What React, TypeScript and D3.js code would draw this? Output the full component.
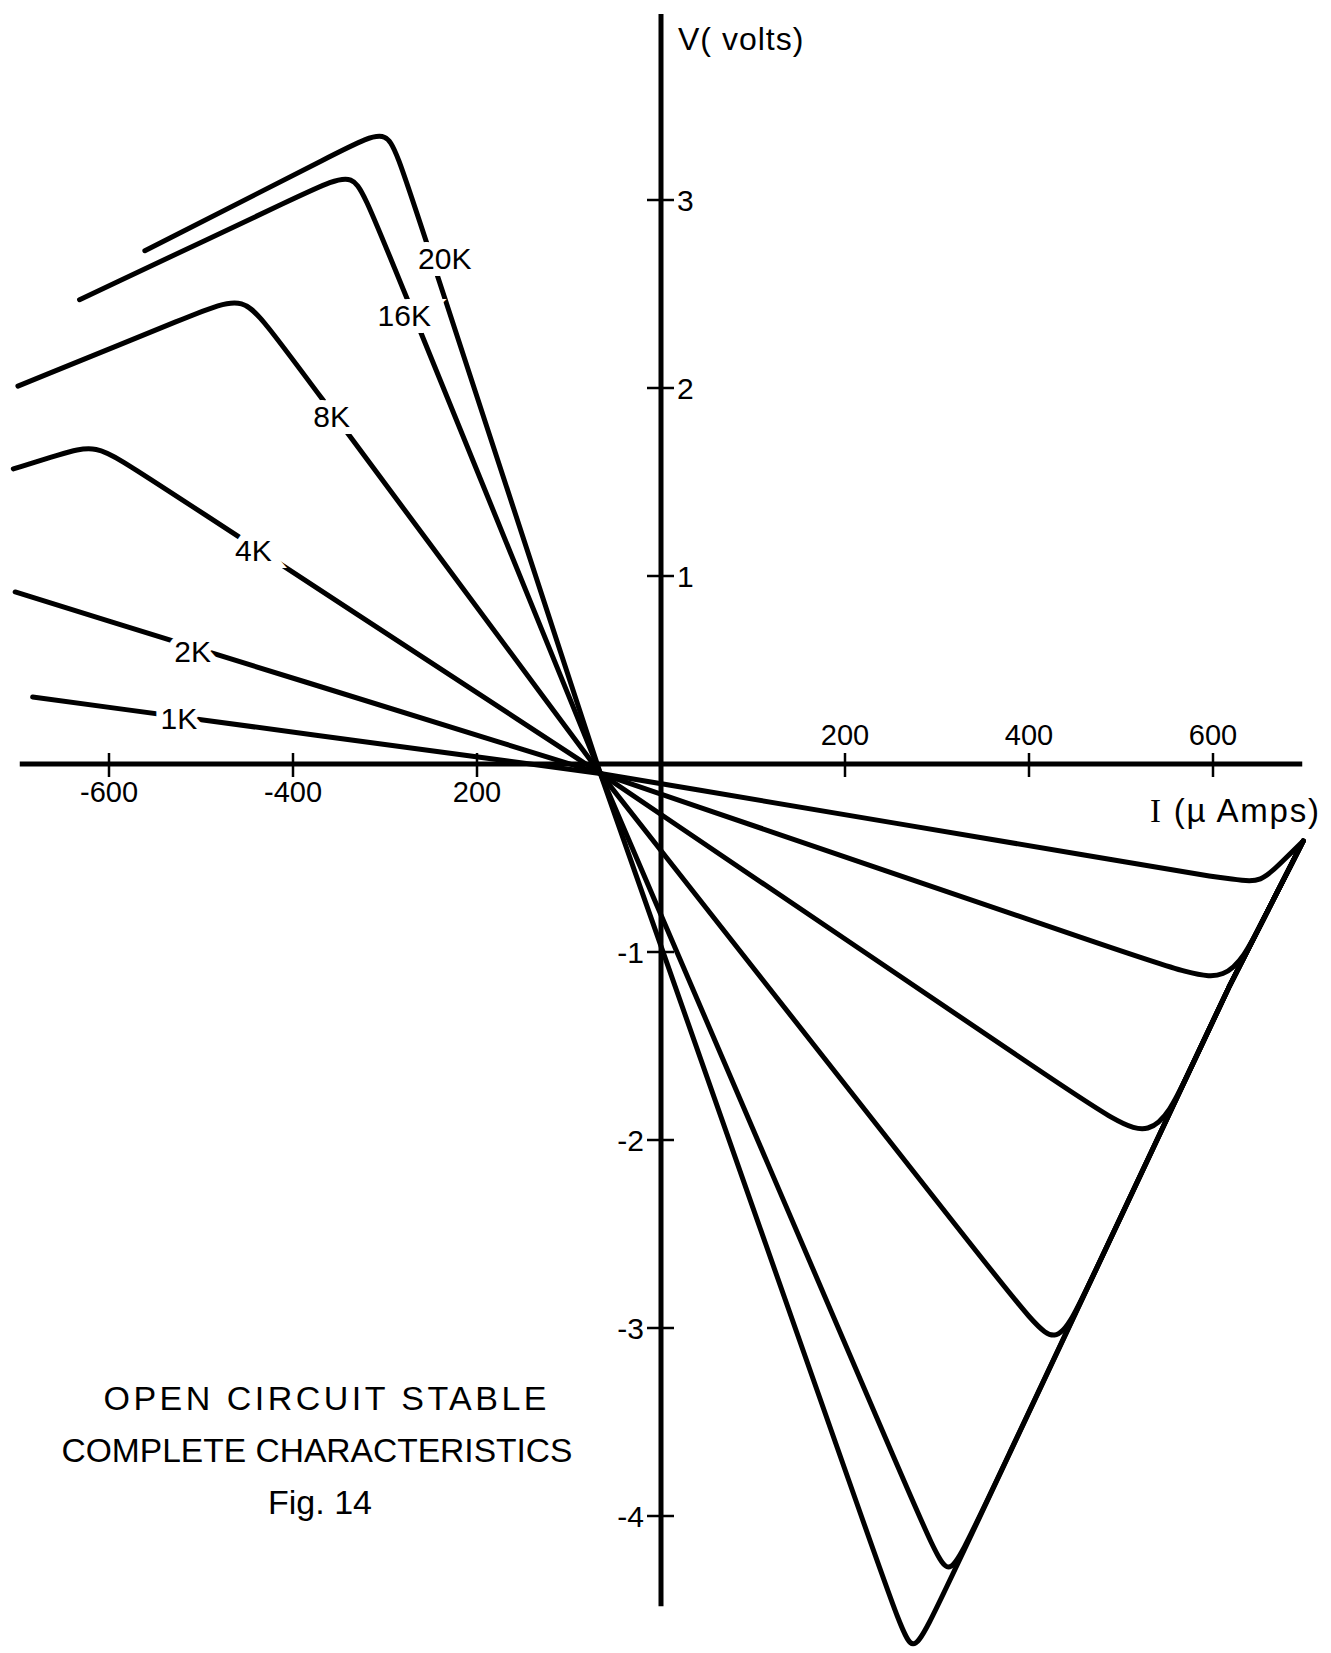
import * as d3 from 'd3';

const W = 1331;
const H = 1653;

// axis ticks (the original labels -200 as "200")
const xTickValues = [-600, -400, -200, 200, 400, 600];
const xTickLabels = ['-600', '-400', '200', '200', '400', '600'];
const yTickValues = [3, 2, 1, -1, -2, -3, -4];
const yTickLabels = ['3', '2', '1', '-1', '-2', '-3', '-4'];

const seriesNames = ['1K', '2K', '4K', '8K', '16K', '20K'];

// I (µA), V (volts): the corner points of each trace
// all traces pass through the common point near (-66 µA, -0.05 V)
const curve1K: [number, number][] = [
  [-683, 0.356], [-66, -0.05], [600, -0.6], [652, -0.63], [698, -0.41],
];
const curve2K: [number, number][] = [[-702, 0.915], [-66, -0.05], [617, -1.19]];
const curve4K: [number, number][] = [[-704, 1.57], [-614, 1.705], [-66, -0.05], [535, -2.04]];
const curve8K: [number, number][] = [[-699, 2.01], [-453, 2.5], [-66, -0.05], [430, -3.135]];
const curve16K: [number, number][] = [[-632, 2.47], [-333, 3.16], [-66, -0.05], [312, -4.36]];
const curve20K: [number, number][] = [[-561, 2.73], [-296, 3.39], [-66, -0.05], [273, -4.77]];
// shared rising branch on the right that every trace turns into
const returnBranch: [number, number][] = [[268, -4.82], [617, -1.19], [698, -0.41]];

const labelI = [-524, -509, -443, -358, -279, -235];
const labelV = [0.245, 0.6, 1.14, 1.85, 2.39, 2.69];

const curves = [curve1K, curve2K, curve4K, curve8K, curve16K, curve20K];

// rounding of the bends, px (left peak, right-hand bottom)
const peakRadius = [0, 0, 45, 50, 45, 45];
const bottomRadius = [45, 70, 80, 65, 55, 55];

const x = d3.scaleLinear().domain([-600, 600]).range([109, 1213]);
const y = d3.scaleLinear().domain([3, -4]).range([200, 1516]);

const basis = d3.line<[number, number]>().curve(d3.curveBasis);

// trace + its part of the return branch, in data units
const fullTrace = (pts: [number, number][], idx: number) => {
  if (idx === 0) return pts;
  const last = pts[pts.length - 1];
  return pts.concat(returnBranch.filter((p) => p[0] > last[0] + 5));
};

// pixel polyline with extra points either side of each bend so the basis curve rounds it
const roundCorners = (pts: [number, number][], idx: number, ownLength: number) => {
  const px = pts.map(([i, v]) => [x(i), y(v)] as [number, number]);
  const out: [number, number][] = [px[0]];
  for (let k = 1; k < px.length - 1; k++) {
    const [ax, ay] = px[k - 1];
    const [cx, cy] = px[k];
    const [bx, by] = px[k + 1];
    const da = Math.hypot(cx - ax, cy - ay);
    const db = Math.hypot(bx - cx, by - cy);
    let r: number;
    if (pts[k][0] === -66) r = 8;
    else if (k >= ownLength) r = 10;
    else if (pts[k][1] > 0) r = peakRadius[idx];
    else r = bottomRadius[idx];
    const ra = Math.min(r, da / 2.2);
    const rb = Math.min(r, db / 2.2);
    out.push([cx + ((ax - cx) * ra) / da, cy + ((ay - cy) * ra) / da]);
    out.push([cx, cy]);
    out.push([cx + ((bx - cx) * rb) / db, cy + ((by - cy) * rb) / db]);
  }
  out.push(px[px.length - 1]);
  return out;
};

const font = '"Liberation Sans", Arial, sans-serif';

export default function App() {
  const x0 = x(0);
  const y0 = y(0);

  return (
    <svg
      width={W}
      height={H}
      style={{ position: 'absolute', left: 0, top: 0, background: '#fff' }}
      fontFamily={font}
    >
      <rect width={W} height={H} fill="#fff" />

      {/* axes */}
      <line x1={x(-697)} x2={x(697)} y1={y0} y2={y0} stroke="#000" strokeWidth={5} />
      <line x1={x0} x2={x0} y1={y(3.99)} y2={y(-4.48)} stroke="#000" strokeWidth={5} />

      {xTickValues.map((v, i) => (
        <g key={'xt' + v}>
          <line x1={x(v)} x2={x(v)} y1={y0 - 11} y2={y0 + 13} stroke="#000" strokeWidth={2.5} />
          <text x={x(v)} y={v < 0 ? y0 + 38 : y0 - 19} textAnchor="middle" fontSize={29}>
            {xTickLabels[i]}
          </text>
        </g>
      ))}

      {yTickValues.map((v, i) => (
        <g key={'yt' + v}>
          <line x1={x0 - 14} x2={x0 + 13} y1={y(v)} y2={y(v)} stroke="#000" strokeWidth={2.5} />
          <text
            x={v > 0 ? x0 + 16 : x0 - 17}
            y={y(v) + 11}
            textAnchor={v > 0 ? 'start' : 'end'}
            fontSize={30}
          >
            {yTickLabels[i]}
          </text>
        </g>
      ))}

      <text x={x0 + 17} y={50} fontSize={32} letterSpacing={1}>V( volts)</text>
      <text x={1150} y={822} fontSize={33} letterSpacing={1.8}>
        <tspan fontFamily='"Liberation Serif", serif'>I</tspan> (µ Amps)
      </text>

      {/* traces */}
      {curves.map((pts, i) => (
        <path
          key={seriesNames[i]}
          d={basis(roundCorners(fullTrace(pts, i), i, pts.length)) ?? ''}
          fill="none"
          stroke="#000"
          strokeWidth={5}
          strokeLinecap="round"
          strokeLinejoin="round"
        />
      ))}

      {/* trace labels, with a white halo that breaks the line */}
      {seriesNames.map((name, i) => (
        <text
          key={'lb' + name}
          x={x(labelI[i])}
          y={y(labelV[i]) + 11}
          textAnchor="middle"
          fontSize={30}
          stroke="#fff"
          strokeWidth={14}
          paintOrder="stroke"
          fill="#000"
        >
          {name}
        </text>
      ))}

      {/* caption */}
      <text x={325} y={1410} textAnchor="middle" fontSize={34} textLength={443} lengthAdjust="spacing">
        OPEN CIRCUIT STABLE
      </text>
      <text x={317} y={1462} textAnchor="middle" fontSize={34} textLength={511} lengthAdjust="spacingAndGlyphs">
        COMPLETE CHARACTERISTICS
      </text>
      <text x={320} y={1514} textAnchor="middle" fontSize={34}>
        Fig. 14
      </text>
    </svg>
  );
}
